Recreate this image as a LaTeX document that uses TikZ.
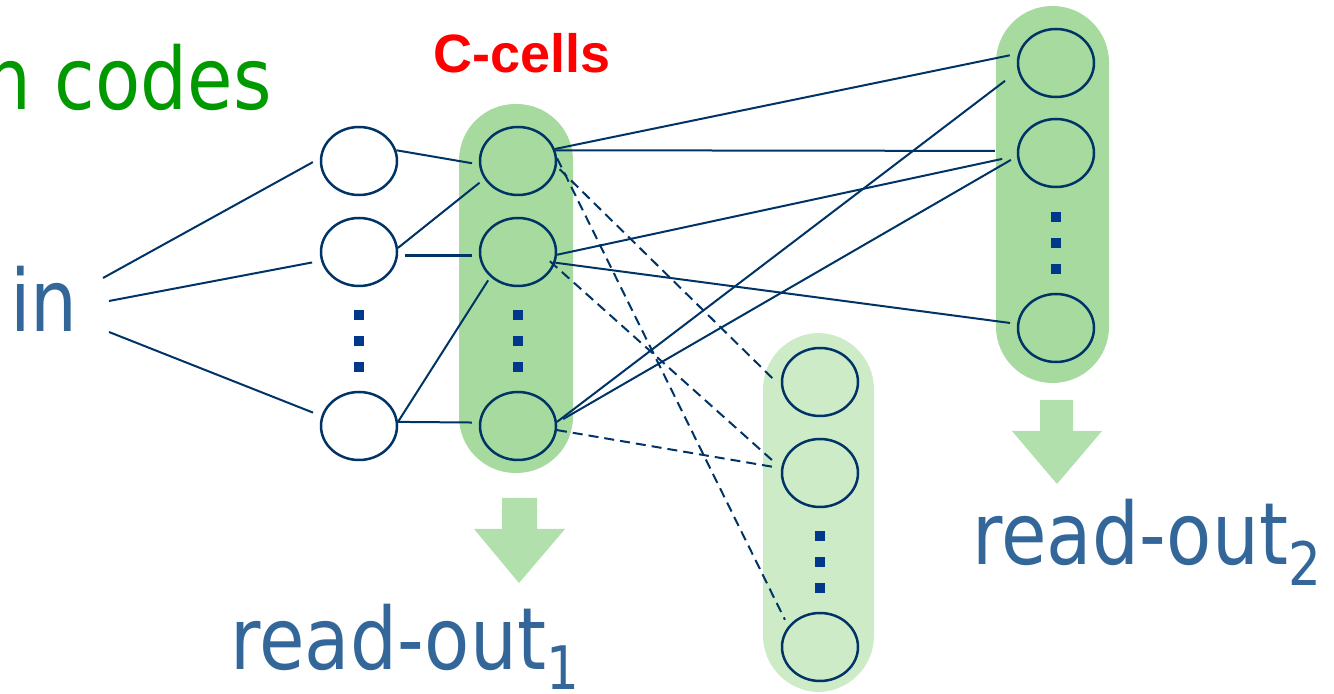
\documentclass[tikz,border=0pt]{standalone}
\usepackage{fontspec}
\setmainfont{DejaVu Sans}[FakeStretch=0.86]
\newfontfamily\headfont{Liberation Sans}
\usetikzlibrary{shapes.geometric}

\definecolor{navy}{RGB}{0,51,102}
\definecolor{dotblue}{RGB}{0,56,140}
\definecolor{textblue}{RGB}{51,102,153}
\definecolor{codegreen}{RGB}{0,153,0}
\definecolor{poolgreen}{RGB}{166,218,158}
\definecolor{palegreen}{RGB}{206,235,200}
\definecolor{arrowgreen}{RGB}{178,224,172}

\begin{document}
\begin{tikzpicture}[x=0.5pt,y=-0.5pt,
  cell/.style={ellipse, draw=navy, line width=1.25pt, minimum width=38pt,
    minimum height=34pt, inner sep=0pt},
  incell/.style={cell, fill=white},
  link/.style={draw=navy, line width=1pt},
  dlink/.style={link, dash pattern=on 5pt off 3pt},
  dotsq/.style={fill=dotblue, minimum size=5pt, inner sep=0pt},
  biglabel/.style={font=\fontsize{43}{50}\selectfont, text=textblue,
    inner sep=0pt, anchor=base west},
  pool/.style={fill=poolgreen, rounded corners=28.2pt}]
\useasboundingbox (0,0) rectangle (1334,694);

% shaded pools of cells
\fill[pool] (459,104) rectangle (573,473);
\fill[pool] (996,6) rectangle (1109,383);
\fill[pool, fill=palegreen] (763,333) rectangle (874,692);

% read-out arrows
\fill[arrowgreen] (502,498) -- (537,498) -- (537,529) -- (565,529) -- (519,583)
  -- (474,529) -- (502,529) -- cycle;
\fill[arrowgreen] (1040,400) -- (1073,400) -- (1073,431) -- (1102,431) -- (1057,484)
  -- (1012,431) -- (1040,431) -- cycle;

% labels
\node[biglabel, text=codegreen] (codes) at (-16,110) {n codes};
\node[inner sep=0pt, anchor=base west, text=red,
  font=\headfont\bfseries\fontsize{27}{32}\selectfont] (ccells) at (433,73) {C-cells};
\node[biglabel] (in) at (10,332) {in};
\node[biglabel] (ro1) at (230,670) {read-out\raisebox{-10pt}{\fontsize{30}{34}\selectfont 1}};
\node[biglabel] (ro2) at (972,565) {read-out\raisebox{-10.5pt}{\fontsize{30}{34}\selectfont 2}};

% input cells
\node[incell] (L1) at (359,161) {};
\node[incell] (L2) at (359,252) {};
\node[incell] (L3) at (359,426) {};
% C-cells
\node[cell] (A1) at (518,161) {};
\node[cell] (A2) at (518,252) {};
\node[cell] (A3) at (518,426) {};
% lower pool
\node[cell] (B1) at (820,382) {};
\node[cell] (B2) at (820,473) {};
\node[cell] (B3) at (820,647) {};
% upper right pool
\node[cell] (C1) at (1056,63) {};
\node[cell] (C2) at (1056,153) {};
\node[cell] (C3) at (1056,328) {};

% vertical ellipses between the second and last cell of each column
\foreach \x/\y/\n in {359/315/l, 518/315/a, 820/536/b, 1056/217/c}{
  \node[dotsq] (\n d1) at (\x,\y) {};
  \node[dotsq] (\n d2) at (\x,\y+26) {};
  \node[dotsq] (\n d3) at (\x,\y+52) {};
}

% input fan
\coordinate (i1) at (103,278);
\coordinate (i2) at (109,301);
\coordinate (i3) at (109,332);
\draw[link, shorten >=4pt] (i1) -- (L1.176);
\draw[link, shorten >=4.5pt] (i2) -- (L2.193);
\draw[link, shorten >=4.5pt] (i3) -- (L3.165);

% input cells to C-cells
\draw[link, shorten >=3.5pt] (L1.16) -- (A1.185);
\draw[link, shorten >=3pt] (L2.6) -- (A1.208);
\draw[link, line width=1.7pt, shorten <=3.5pt, shorten >=3.5pt] (L2.355) -- (A2.185);
\draw[link, shorten >=2pt] (L3.6) -- (A2.222);
\draw[link, shorten >=3.5pt] (L3.6) -- (A3.175);

% C-cells to upper right pool
\draw[link, shorten >=4.3pt] (A1.18) -- (C1.166);
\draw[link, shorten >=11pt] (A1.16) -- (C2.177);
\draw[link, shorten >=7.5pt] (A2.356) -- (C2.184);
\draw[link, shorten >=3.5pt] (A2.344) -- (C3.174);
\draw[link, shorten >=8pt] (A3.6) -- (C1.192);
\draw[link, shorten <=3.5pt, shorten >=3.5pt] (A3.5) -- (C2.185);

% C-cells to lower pool
\draw[dlink, shorten >=3.7pt] (A1.4) -- (B3.147);
\draw[dlink, shorten <=2pt, shorten >=5pt] (A1.352) -- (B1.187);
\draw[dlink, shorten <=-3pt, shorten >=4.5pt] (A2.340) -- (B2.173);
\draw[dlink, shorten >=4.5pt] (A3.354) -- (B2.173);
\end{tikzpicture}
\end{document}
